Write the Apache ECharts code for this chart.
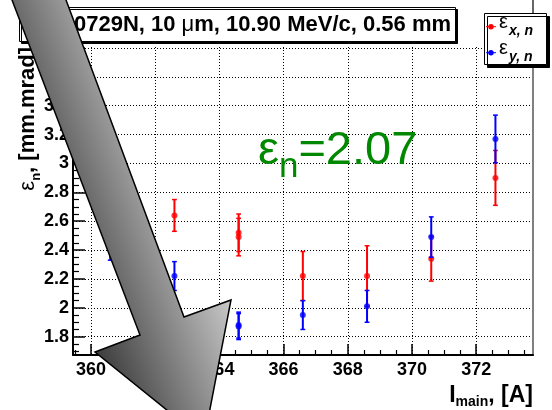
<!DOCTYPE html>
<html>
<head>
<meta charset="utf-8">
<script src="https://cdn.jsdelivr.net/npm/echarts@6/dist/echarts.min.js"></script>
<style>
  html, body { margin: 0; padding: 0; background: #fff; }
  #chart { width: 552px; height: 410px; }
</style>
</head>
<body>
<div id="chart"></div>
<script>
// Main-coil current scan: normalized emittance in x and y
const currents = [360.6, 362.6, 364.6, 364.6, 366.6, 368.6, 370.6, 372.6];
const emitX    = [2.85, 2.64, 2.52, 2.49, 2.22, 2.22, 2.34, 2.90];
const errX     = [0.15, 0.11, 0.13, 0.13, 0.17, 0.21, 0.155, 0.19];
const emitY    = [2.44, 2.22, 1.88, 1.87, 1.95, 2.01, 2.49, 3.17];
const errY     = [0.11, 0.10, 0.09, 0.09, 0.10, 0.11, 0.14, 0.165];

// Axis ranges and tick marks
const xRange = [359.44, 373.77];
const yRange = [1.673, 3.807];
const xMajorTicks = [360, 362, 364, 366, 368, 370, 372];
const yMajorTicks = [1.8, 2, 2.2, 2.4, 2.6, 2.8, 3, 3.2, 3.4, 3.6, 3.8];
const xMinorStep = 0.5;
const yMinorStep = 0.05;

const titleText = '20070729N, 10 {u|μ}m, 10.90 MeV/c, 0.56 mm';
const legendSubs = ['x, n', 'y, n'];
const seriesNames = legendSubs.map(s => 'ε' + s);
const meanText = '{e|ε}{s|n}{e|=2.07}';

const FONT = 'Liberation Sans';
const RED = '#ff0000';
const BLUE = '#0000ff';
const seriesColors = [RED, BLUE];

function minorTicks(range, step, majors) {
  const out = [];
  const start = Math.ceil(range[0] / step - 1e-9);
  const end = Math.floor(range[1] / step + 1e-9);
  for (let k = start; k <= end; k++) {
    const v = +(k * step).toFixed(4);
    if (!majors.some(m => Math.abs(m - v) < 1e-6)) out.push(v);
  }
  return out;
}
const xMinorTicks = minorTicks(xRange, xMinorStep, xMajorTicks);
const yMinorTicks = minorTicks(yRange, yMinorStep, yMajorTicks);

const tickFont = { fontFamily: FONT, fontWeight: 'bold', fontSize: 18, color: '#000' };

function errorBars(name, vals, errs, color, z) {
  return {
    type: 'custom',
    name: name + ' error',
    xAxisIndex: 0,
    yAxisIndex: 0,
    z: z,
    silent: true,
    encode: { x: 0, y: [1, 2] },
    data: currents.map((c, i) => [c, vals[i] - errs[i], vals[i] + errs[i]]),
    renderItem: function (params, api) {
      const x = api.value(0);
      const lo = api.coord([x, api.value(1)]);
      const hi = api.coord([x, api.value(2)]);
      const cap = 2.4;
      return {
        type: 'group',
        children: [
          { type: 'line', shape: { x1: lo[0], y1: lo[1], x2: hi[0], y2: hi[1] },
            style: { stroke: color, lineWidth: 2 } },
          { type: 'line', shape: { x1: lo[0] - cap, y1: lo[1], x2: lo[0] + cap, y2: lo[1] },
            style: { stroke: color, lineWidth: 1.5 } },
          { type: 'line', shape: { x1: hi[0] - cap, y1: hi[1], x2: hi[0] + cap, y2: hi[1] },
            style: { stroke: color, lineWidth: 1.5 } }
        ]
      };
    }
  };
}

function points(name, vals, color, z) {
  return {
    type: 'scatter',
    name: name,
    xAxisIndex: 0,
    yAxisIndex: 0,
    z: z,
    symbol: 'circle',
    symbolSize: 6,
    itemStyle: { color: color },
    data: currents.map((c, i) => [c, vals[i]])
  };
}

// Legend box: marker + label per series
function legendGraphics() {
  const box = { left: 484, top: 13, width: 62, height: 51, rowGap: 26 };
  const items = [{
    type: 'rect', z: 20,
    shape: { x: box.left + 0.5, y: box.top + 0.5, width: box.width, height: box.height },
    style: { fill: '#fff', stroke: '#000', lineWidth: 1,
             shadowColor: '#000', shadowBlur: 0, shadowOffsetX: 3, shadowOffsetY: 3 }
  }];
  legendSubs.forEach((sub, i) => {
    const cy = box.top + 13.7 + i * box.rowGap;
    items.push({
      type: 'line', z: 21,
      shape: { x1: box.left + 2, y1: cy, x2: box.left + 12, y2: cy },
      style: { stroke: seriesColors[i], lineWidth: 1 }
    });
    items.push({
      type: 'circle', z: 21,
      shape: { cx: box.left + 7, cy: cy, r: 2.7 },
      style: { fill: seriesColors[i] }
    });
    items.push({
      type: 'text', z: 21, x: box.left + 15, y: cy - 14.5,
      style: {
        text: '{e|ε}{s|' + sub + '}',
        align: 'left', verticalAlign: 'top',
        rich: {
          e: { fontFamily: FONT, fontSize: 20, lineHeight: 20, verticalAlign: 'top', fill: '#000' },
          s: { fontFamily: FONT, fontSize: 14, fontWeight: 'bold', fontStyle: 'italic', lineHeight: 14,
               verticalAlign: 'top', padding: [11.6, 0, 0, 1], fill: '#000' }
        }
      }
    });
  });
  return items;
}

const chart = echarts.init(document.getElementById('chart'), null, { renderer: 'canvas', width: 552, height: 410 });

chart.setOption({
  animation: false,
  backgroundColor: '#fff',
  grid: { left: 73, right: 19, top: 47, bottom: 55, outerBoundsMode: 'none' },
  title: {
    text: titleText,
    left: 19,
    top: 7,
    padding: [6, 5, 6, 6],
    backgroundColor: '#fff',
    borderColor: '#000',
    borderWidth: 1,
    shadowColor: '#000',
    shadowBlur: 0,
    shadowOffsetX: 2,
    shadowOffsetY: 2,
    z: 6,
    textStyle: {
      fontFamily: FONT, fontWeight: 'bold', fontSize: 22, lineHeight: 23, color: '#000',
      rich: { u: { fontFamily: FONT, fontWeight: 'normal', fontSize: 22, lineHeight: 23, color: '#000' } }
    }
  },
  xAxis: [
    {
      type: 'value', min: xRange[0], max: xRange[1], position: 'bottom',
      axisLine: { show: true, onZero: false, lineStyle: { color: '#000', width: 2 } },
      axisTick: { show: true, inside: true, length: 11, customValues: xMajorTicks,
                  lineStyle: { color: '#000', width: 1.5 } },
      axisLabel: Object.assign({ show: true, customValues: xMajorTicks, margin: 6 }, tickFont),
      splitLine: { show: true, lineStyle: { color: '#000', width: 1, type: [1, 2] } }
    },
    {
      type: 'value', min: xRange[0], max: xRange[1], position: 'bottom',
      axisLine: { show: false },
      axisTick: { show: true, inside: true, length: 5, customValues: xMinorTicks,
                  lineStyle: { color: '#000', width: 1.2 } },
      axisLabel: { show: false },
      splitLine: { show: false }
    }
  ],
  yAxis: [
    {
      type: 'value', min: yRange[0], max: yRange[1], position: 'left',
      axisLine: { show: true, onZero: false, lineStyle: { color: '#000', width: 2 } },
      axisTick: { show: true, inside: true, length: 12, customValues: yMajorTicks,
                  lineStyle: { color: '#000', width: 1.5 } },
      axisLabel: Object.assign({
        show: true, customValues: yMajorTicks, margin: 4,
        formatter: v => String(+(+v).toFixed(2))
      }, tickFont),
      splitLine: { show: true, lineStyle: { color: '#000', width: 1, type: [1, 2] } }
    },
    {
      type: 'value', min: yRange[0], max: yRange[1], position: 'left',
      axisLine: { show: false },
      axisTick: { show: true, inside: true, length: 6, customValues: yMinorTicks,
                  lineStyle: { color: '#000', width: 1.2 } },
      axisLabel: { show: false },
      splitLine: { show: false }
    },
    {
      type: 'value', min: yRange[0], max: yRange[1], position: 'right',
      axisLine: { show: true, onZero: false, lineStyle: { color: '#808080', width: 2 } },
      axisTick: { show: false },
      axisLabel: { show: false },
      splitLine: { show: false }
    }
  ],
  series: [
    errorBars(seriesNames[0], emitX, errX, RED, 3),
    points(seriesNames[0], emitX, RED, 4),
    errorBars(seriesNames[1], emitY, errY, BLUE, 5),
    points(seriesNames[1], emitY, BLUE, 6)
  ],
  graphic: [
    // y-axis title, reading upward, right-aligned to the top of the frame
    {
      type: 'text', x: 27.5, y: 47, rotation: Math.PI / 2, z: 10,
      style: {
        text: '{g|ε}{s|n}{b|, [mm.mrad]}',
        align: 'right', verticalAlign: 'middle',
        rich: {
          g: { fontFamily: FONT, fontSize: 22, lineHeight: 22, verticalAlign: 'top', fill: '#000' },
          s: { fontFamily: FONT, fontSize: 13, fontWeight: 'bold', lineHeight: 13, verticalAlign: 'top',
               padding: [13.6, 0, 0, 0], fill: '#000' },
          b: { fontFamily: FONT, fontSize: 22, fontWeight: 'bold', lineHeight: 22, verticalAlign: 'top', fill: '#000' }
        }
      }
    },
    // x-axis title, right-aligned under the frame
    {
      type: 'text', x: 533, y: 384, z: 10,
      style: {
        text: '{i|I}{s|main}{i|, [A]}',
        align: 'right', verticalAlign: 'top',
        rich: {
          i: { fontFamily: FONT, fontSize: 23, fontWeight: 'bold', lineHeight: 23, verticalAlign: 'top', fill: '#000' },
          s: { fontFamily: FONT, fontSize: 14, fontWeight: 'bold', lineHeight: 14, verticalAlign: 'top',
               padding: [10.8, 0, 0, 0], fill: '#000' }
        }
      }
    },
    // mean emittance annotation
    {
      type: 'text', x: 258, y: 128, z: 50,
      style: {
        text: meanText,
        align: 'left', verticalAlign: 'top',
        rich: {
          e: { fontFamily: FONT, fontSize: 47, lineHeight: 47, verticalAlign: 'top', fill: '#008800' },
          s: { fontFamily: FONT, fontSize: 35, lineHeight: 35, verticalAlign: 'top',
               padding: [21.5, 0, 0, 0], fill: '#008800' }
        }
      }
    },
    // pad edge line above the frame corner
    {
      type: 'line', z: 1,
      shape: { x1: 533, y1: 0, x2: 533, y2: 47 },
      style: { stroke: '#000', lineWidth: 1.2 }
    },
    ...legendGraphics(),
    // big grey pointer arrow
    {
      type: 'polygon', z: 100,
      shape: { points: [[8.2, -10], [62.3, -10], [184, 317], [231, 300], [204, 440], [95, 352], [140, 335]] },
      style: {
        fill: new echarts.graphic.LinearGradient(95, 352, 231, 300, [
          { offset: 0, color: '#3c3c3c' },
          { offset: 1, color: '#c8c8c8' }
        ], true),
        stroke: '#000',
        lineWidth: 1.5
      }
    }
  ]
});
</script>
</body>
</html>
